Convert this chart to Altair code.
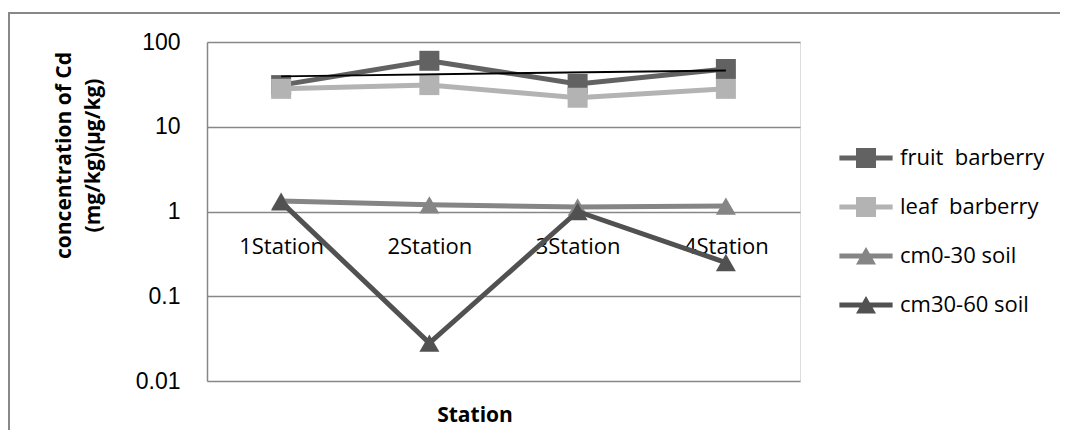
import altair as alt
import pandas as pd

# ---- data ----
station_idx = [1, 2, 3, 4]
station_labels = ["1Station", "2Station", "3Station", "4Station"]
series_names = ["fruit\u00a0 barberry", "leaf\u00a0 barberry", "cm0-30 soil", "cm30-60 soil"]
fruit_barberry = [31, 60, 32, 48]
leaf_barberry = [28, 31, 22, 28]
soil_0_30 = [1.33, 1.2, 1.13, 1.16]
soil_30_60 = [1.3, 0.028, 1.0, 0.25]
y_ticks = [0.01, 0.1, 1, 10, 100]
x_title = "Station"

# ---- styles ----
colors = ["#626262", "#b3b3b3", "#858585", "#515151"]
shapes = ["square", "square", "triangle-up", "triangle-up"]
sq_path = "M-1.33,-0.125H1.33V0.125H-1.33Z M-0.5,-0.5H0.5V0.5H-0.5Z"
tri_path = "M-1.33,-0.125H1.33V0.125H-1.33Z M0,-0.45L0.5,0.42H-0.5Z"
legend_paths = [sq_path, sq_path, tri_path, tri_path]

rows = []
for name, vals in zip(series_names, [fruit_barberry, leaf_barberry, soil_0_30, soil_30_60]):
    for i, v in zip(station_idx, vals):
        rows.append({"series": name, "idx": i, "value": v})
df = pd.DataFrame(rows)

label_expr = "[" + ",".join("'%s'" % s for s in station_labels) + "][datum.value - 1]"

x_enc = alt.X(
    "idx:Q",
    scale=alt.Scale(domain=[0.5, 4.5], nice=False, zero=False),
    axis=alt.Axis(
        values=station_idx, labelExpr=label_expr, offset=-169.5, domain=False,
        ticks=False, grid=False, labelFontSize=22, labelFont="Open Sans",
        labelColor="black", labelPadding=25, labelFlush=False, title=None,
    ),
)
y_enc = alt.Y(
    "value:Q",
    scale=alt.Scale(type="log", domain=[0.01, 100], nice=False),
    axis=alt.Axis(
        values=y_ticks, format="~g", ticks=False, domain=True,
        domainColor="#878787", domainWidth=1.5, grid=True,
        gridColor="#878787", gridWidth=1.3, labelFont="Liberation Sans",
        labelFontSize=23, labelColor="black", labelPadding=27,
        title=["concentration of Cd", "(mg/kg)(\u00b5g/kg)"],
        titleFont="Open Sans", titleFontSize=21, titleFontWeight="bold",
        titleLineHeight=29, titleAngle=270, titleX=-154, titleY=113,
        titleAlign="center", titleBaseline="top", titleColor="black",
    ),
)

base = alt.Chart(df)

frame_data = alt.Data(values=[{}])
frame_top = alt.Chart(frame_data).mark_rule(color="#888888", strokeWidth=2).encode(
    x=alt.value(-198), x2=alt.value(853), y=alt.value(-29)
)
frame_left = alt.Chart(frame_data).mark_rule(color="#888888", strokeWidth=2).encode(
    x=alt.value(-198), y=alt.value(-30), y2=alt.value(388)
)
x_title_mark = alt.Chart(frame_data).mark_text(
    text=x_title, font="Open Sans", fontSize=21, fontWeight="bold",
    color="black", align="center", baseline="middle",
).encode(x=alt.value(268), y=alt.value(374))

layers = [frame_top, frame_left]
for name, col, shp in zip(series_names, colors, shapes):
    sub = base.transform_filter(alt.datum.series == name)
    layers.append(sub.mark_line(strokeWidth=5, color=col).encode(x=x_enc, y=y_enc))
    layers.append(
        sub.mark_point(filled=True, opacity=1, shape=shp, size=400, color=col, strokeWidth=0)
        .encode(x=x_enc, y=y_enc)
    )

trend = (
    base.transform_filter(alt.datum.series == series_names[0])
    .transform_regression("idx", "value", method="linear")
    .mark_line(color="black", strokeWidth=2)
    .encode(x=x_enc, y=y_enc)
)
layers.append(trend)

leg = alt.Legend(
    orient="none", legendX=639, legendY=96, title=None, symbolSize=1600,
    symbolOpacity=1, symbolStrokeWidth=0, labelFontSize=22, labelFont="Open Sans",
    labelColor="black", labelOffset=14, rowPadding=18, padding=0, labelLimit=300,
)
legend_layer = base.mark_point(filled=True, opacity=0).encode(
    x=x_enc, y=y_enc,
    color=alt.Color("series:N", scale=alt.Scale(domain=series_names, range=colors), legend=leg),
    shape=alt.Shape("series:N", scale=alt.Scale(domain=series_names, range=legend_paths), legend=leg),
)
layers.append(legend_layer)
layers.append(x_title_mark)

chart = alt.layer(*layers).properties(
    width=593, height=339,
    padding={"left": 199, "top": 34, "right": 261, "bottom": 49},
    autosize=alt.AutoSizeParams(type="none"),
).configure_view(stroke=None).configure(background="white")

chart.save("out.html", embed_options={"renderer": "svg", "actions": False})
